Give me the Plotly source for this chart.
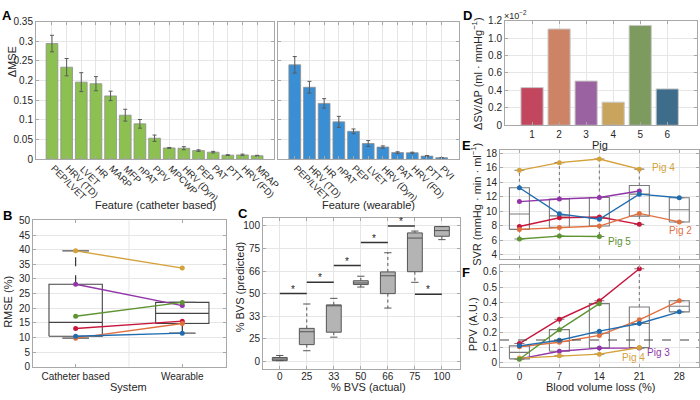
import plotly.graph_objects as go

W, H = 700, 400

# ---------------- data ----------------
# Panel A
cat_features = ["PEP/LVET", "HRV (TD)", "LVET", "HR", "MARP", "MFP", "nPAT", "PPV",
                "MPCWP", "HRV (Dyn)", "PEP", "PAT", "PTT", "HRV (FD)", "MRAP"]
cat_dmse = [0.294, 0.234, 0.196, 0.192, 0.161, 0.112, 0.090, 0.0535, 0.0288, 0.028,
            0.022, 0.018, 0.0105, 0.011, 0.009]
cat_err = [0.021, 0.022, 0.024, 0.018, 0.012, 0.015, 0.011, 0.008, 0.001, 0.004,
           0.002, 0.002, 0.001, 0.002, 0.001]
wear_features = ["PEP/LVET", "HRV (TD)", "HR", "nPAT", "PEP", "LVET", "HRV (Dyn)",
                 "PAT", "HRV (FD)", "PTT", "PVI"]
wear_dmse = [0.240, 0.183, 0.142, 0.095, 0.071, 0.040, 0.031, 0.017, 0.0165, 0.008, 0.004]
wear_err = [0.021, 0.015, 0.012, 0.014, 0.006, 0.0075, 0.003, 0.002, 0.0015, 0.0015, 0.0005]
a_yticks = [0, 0.05, 0.1, 0.15, 0.2, 0.25, 0.3, 0.35]
a_ytext = ["0", "0.05", "0.1", "0.15", "0.2", "0.25", "0.3", "0.35"]

# Panel B (pigs 1..6)
systems = ["Catheter based", "Wearable"]
rmse_catheter = [13.1, 9.8, 28.2, 39.6, 17.25, 10.45]
rmse_wearable = [15.6, 14.8, 20.9, 33.7, 22.0, 11.5]

# Panel C (ordinal positions on the 0/25/33/50/66/75/100 scale)
bvs_labels = ["0", "25", "33", "50", "66", "75", "100"]
c_q1 = [0.03, 0.74, 1.29, 3.40, 3.00, 3.97, 5.54]
c_med = [0.10, 1.31, 2.46, 3.47, 3.79, 5.46, 5.79]
c_q3 = [0.17, 1.46, 2.50, 3.57, 3.96, 5.69, 5.97]
c_lo = [0.03, 0.47, 1.07, 3.29, 2.36, 3.50, 5.39]
c_hi = [0.26, 2.54, 2.79, 3.77, 4.81, 5.77, 5.97]
c_sig_y = [3.0, 3.5, 4.24, 5.26, 6.0, 2.97]

# Panel D
pigs = [1, 2, 3, 4, 5, 6]
dsv_dp = [0.432, 1.103, 0.507, 0.265, 1.144, 0.417]   # x10^-2

# Panels E/F
loss = [0, 7, 14, 21, 28]
svr = [
    [7.9, 9.1, 9.2, 8.2, None],
    [7.5, 7.78, 7.96, 9.7, 8.53],
    [11.33, 11.69, 11.9, 12.8, None],
    [15.64, 16.7, 17.2, 15.8, None],
    [6.18, 6.58, 6.53, None, None],
    [13.24, 9.64, 8.9, 12.36, 11.87],
]
ppv = [
    [0.126, 0.287, 0.409, 0.621, None],
    [0.105, 0.135, 0.18, 0.283, 0.409],
    [0.025, 0.075, 0.096, 0.096, None],
    [0.03, 0.045, 0.056, 0.1, None],
    [0.022, 0.218, 0.39, None, None],
    [0.111, 0.148, 0.208, 0.259, 0.336],
]
ppv_threshold = 0.15

# ---------------- style ----------------
PIG_LINE = ["#c8173d", "#e0703f", "#9135a8", "#d4a13a", "#5e9432", "#1f6cb0"]
PIG_BAR = ["#c1465e", "#cd8466", "#9a62a0", "#c9a45c", "#7e9b5f", "#3e6c8b"]
GREEN = "#8cc152"
BLUE = "#3a8ed4"
GRID = "#e6e6e6"
FRAME = "#a8a8a8"
TXT = "#262626"
FONT = "Liberation Sans, Arial, sans-serif"


def mprctile(vals, p):
    v = sorted(x for x in vals if x is not None)
    n = len(v)
    pos = p / 100 * n + 0.5
    if pos <= 1:
        return v[0]
    if pos >= n:
        return v[-1]
    i = int(pos)
    f = pos - i
    return v[i - 1] + f * (v[i] - v[i - 1])


def box_stats(vals):
    v = sorted(x for x in vals if x is not None)
    q1, med, q3 = mprctile(v, 25), mprctile(v, 50), mprctile(v, 75)
    iqr = q3 - q1
    hi = max(x for x in v if x <= q3 + 1.5 * iqr)
    lo = min(x for x in v if x >= q1 - 1.5 * iqr)
    return q1, med, q3, lo, hi


def px_x(x):
    return x / W


def px_y(y):
    return 1 - y / H


def dom_x(a, b):
    return [a / W, b / W]


def dom_y(top, bottom):
    return [1 - bottom / H, 1 - top / H]


fig = go.Figure()


def add_box(xc, st, w, xa, ya, edge, fill, wcol, wdash, capw, lw=1.0, capcol=None):
    q1, med, q3, lo, hi = st
    h = w / 2
    capcol = capcol or wcol
    common = dict(xaxis=xa, yaxis=ya, hoverinfo="skip", showlegend=False, mode="lines")
    fig.add_trace(go.Scatter(x=[xc, xc], y=[q3, hi], line=dict(color=wcol, width=lw, dash=wdash), **common))
    fig.add_trace(go.Scatter(x=[xc, xc], y=[q1, lo], line=dict(color=wcol, width=lw, dash=wdash), **common))
    kw = dict(fill="toself", fillcolor=fill) if fill else {}
    fig.add_trace(go.Scatter(x=[xc - h, xc + h, xc + h, xc - h, xc - h], y=[q1, q1, q3, q3, q1],
                             line=dict(color=edge, width=lw), **kw, **common))
    fig.add_trace(go.Scatter(x=[xc - h, xc + h], y=[med, med], line=dict(color=edge, width=lw), **common))
    c = capw / 2
    fig.add_trace(go.Scatter(x=[xc - c, xc + c], y=[hi, hi], line=dict(color=capcol, width=lw), **common))
    fig.add_trace(go.Scatter(x=[xc - c, xc + c], y=[lo, lo], line=dict(color=capcol, width=lw), **common))


# ---------- Panel A ----------
fig.add_trace(go.Bar(x=list(range(1, len(cat_dmse) + 1)), y=cat_dmse, width=0.8,
                     marker=dict(color=GREEN, line=dict(color="#8f8f8f", width=0.8)),
                     error_y=dict(type="data", array=cat_err, color="#5a5a5a", thickness=1, width=2),
                     xaxis="x", yaxis="y", showlegend=False))
fig.add_trace(go.Bar(x=list(range(1, len(wear_dmse) + 1)), y=wear_dmse, width=0.8,
                     marker=dict(color=BLUE, line=dict(color="#8f8f8f", width=0.8)),
                     error_y=dict(type="data", array=wear_err, color="#5a5a5a", thickness=1, width=2),
                     xaxis="x2", yaxis="y2", showlegend=False))

# ---------- Panel B ----------
for i, vals in enumerate([rmse_catheter, rmse_wearable]):
    add_box(i + 1, box_stats(vals), 0.5, "x3", "y3", "#444444", None, "#222222", "dash", 0.25,
            lw=1.1, capcol="#555555")
for p in range(6):
    fig.add_trace(go.Scatter(x=[1, 2], y=[rmse_catheter[p], rmse_wearable[p]], mode="lines+markers",
                             line=dict(color=PIG_LINE[p], width=1.4), marker=dict(size=5, color=PIG_LINE[p]),
                             xaxis="x3", yaxis="y3", showlegend=False))

# ---------- Panel C ----------
for i in range(len(bvs_labels)):
    add_box(i, (c_q1[i], c_med[i], c_q3[i], c_lo[i], c_hi[i]), 0.55, "x4", "y4", "#555555",
            "#b4b4b4", "#555555", "dot", 0.27, lw=1.0)
for k, yv in enumerate(c_sig_y):
    fig.add_trace(go.Scatter(x=[k, k + 1], y=[yv, yv], mode="lines", line=dict(color="#333333", width=1.5),
                             xaxis="x4", yaxis="y4", showlegend=False, hoverinfo="skip"))

# ---------- Panel D ----------
fig.add_trace(go.Bar(x=pigs, y=dsv_dp, width=0.82,
                     marker=dict(color=PIG_BAR, line=dict(color="#c8c8c8", width=1)),
                     xaxis="x5", yaxis="y5", showlegend=False))

# ---------- Panels E / F ----------
for data, xa, ya, wdash in [(svr, "x6", "y6", "dot"), (ppv, "x7", "y7", "dot")]:
    for j, xv in enumerate(loss):
        col = [data[p][j] for p in range(6) if data[p][j] is not None]
        add_box(xv, box_stats(col), 3.5, xa, ya, "#7a7a7a", None, "#7a7a7a", wdash, 1.75, lw=1.1)
    for p in range(6):
        xs = [loss[j] for j in range(5) if data[p][j] is not None]
        ys = [data[p][j] for j in range(5) if data[p][j] is not None]
        fig.add_trace(go.Scatter(x=xs, y=ys, mode="lines+markers",
                                 line=dict(color=PIG_LINE[p], width=1.4),
                                 marker=dict(size=5, color=PIG_LINE[p]),
                                 xaxis=xa, yaxis=ya, showlegend=False))
fig.add_trace(go.Scatter(x=[-3.4, 31.45], y=[ppv_threshold, ppv_threshold], mode="lines",
                         line=dict(color="#444444", width=1.1, dash="dash"),
                         xaxis="x7", yaxis="y7", showlegend=False, hoverinfo="skip"))


# ---------------- axes ----------------
def axis(domain, rng, anchor, **kw):
    d = dict(domain=domain, range=rng, anchor=anchor, showline=True, linecolor=FRAME, linewidth=1,
             mirror="ticks", ticks="inside", ticklen=3, tickcolor=FRAME, showgrid=True,
             gridcolor=GRID, gridwidth=1, zeroline=False, fixedrange=True,
             tickfont=dict(size=10, color=TXT, family=FONT))
    d.update(kw)
    return d


lay = dict(
    width=W, height=H, autosize=False, margin=dict(l=0, r=0, t=0, b=0, pad=0),
    paper_bgcolor="white", plot_bgcolor="white", showlegend=False,
    font=dict(family=FONT, size=10, color=TXT),
)
# A left
lay["xaxis"] = axis(dom_x(36, 274), [-0.09, 16.15], "y", tickvals=list(range(1, 16)), showticklabels=False)
lay["yaxis"] = axis(dom_y(16, 158), [0, 0.35], "x", tickvals=a_yticks, ticktext=a_ytext)
# A right
lay["xaxis2"] = axis(dom_x(278, 459), [-0.14, 12.18], "y2", tickvals=list(range(1, 12)), showticklabels=False)
lay["yaxis2"] = axis(dom_y(16, 158), [0, 0.35], "x2", tickvals=a_yticks, showticklabels=False)
# B
lay["xaxis3"] = axis(dom_x(33, 226), [0.6, 2.41], "y3", tickvals=[1, 2], ticktext=systems, showgrid=False)
lay["yaxis3"] = axis(dom_y(221, 372), [0, 50], "x3", tickvals=list(range(0, 55, 5)))
# C
lay["xaxis4"] = axis(dom_x(263, 460), [-0.62, 6.67], "y4", tickvals=list(range(7)), ticktext=bvs_labels,
                     ticklabelstandoff=-2)
lay["yaxis4"] = axis(dom_y(219, 374), [-0.33, 6.33], "x4", tickvals=list(range(7)), ticktext=bvs_labels)
# D
lay["xaxis5"] = axis(dom_x(505, 697), [0, 7.1], "y5", tickvals=pigs)
lay["yaxis5"] = axis(dom_y(15, 123), [0, 1.2], "x5", tickvals=[0, 0.2, 0.4, 0.6, 0.8, 1.0, 1.2],
                     ticktext=["0", "0.2", "0.4", "0.6", "0.8", "1.0", "1.2"])
# E
lay["xaxis6"] = axis(dom_x(500, 699), [-3.4, 31.45], "y6", tickvals=loss, showticklabels=False)
lay["yaxis6"] = axis(dom_y(148, 261), [3.4, 18.5], "x6", tickvals=list(range(4, 20, 2)))
# F
lay["xaxis7"] = axis(dom_x(500, 699), [-3.4, 31.45], "y7", tickvals=loss)
lay["yaxis7"] = axis(dom_y(267, 372), [-0.028, 0.646], "x7", tickvals=[0, 0.1, 0.2, 0.3, 0.4, 0.5, 0.6],
                     ticktext=["0", "0.1", "0.2", "0.3", "0.4", "0.5", "0.6"])
fig.update_layout(**lay)

# vertical grid line in B between the systems
fig.add_shape(type="line", xref="x3", yref="y3 domain", x0=1.5, x1=1.5, y0=0, y1=1,
              line=dict(color=GRID, width=1), layer="below")

# ---------------- text ----------------
ann = []


def text(x, y, t, size=11, angle=0, color=TXT, bold=False, xanchor="center", yanchor="middle"):
    ann.append(dict(x=px_x(x), y=px_y(y), xref="paper", yref="paper", text=("<b>%s</b>" % t) if bold else t,
                    showarrow=False, textangle=angle, xanchor=xanchor, yanchor=yanchor,
                    font=dict(size=size, color=color, family=FONT)))


# rotated category labels of panel A (text starts at the tick and runs down-right)
for xa, names in [("x", cat_features), ("x2", wear_features)]:
    for i, name in enumerate(names):
        ann.append(dict(x=i + 1, y=px_y(159), xref=xa, yref="paper", text=name, showarrow=False,
                        textangle=45, xanchor="left", yanchor="top", xshift=-6,
                        font=dict(size=9.5, color=TXT, family=FONT)))

for lab, x, y in [("A", 0, 0), ("B", 1, 206), ("C", 236, 204), ("D", 461, 0), ("E", 460, 134), ("F", 460, 265)]:
    text(x, y, lab, size=13, bold=True, xanchor="left", yanchor="top", color="#000")

text(12, 58, "ΔMSE", angle=-90)
text(155, 205, "Feature (catheter based)")
text(368, 205, "Feature (wearable)")
text(8, 305, "RMSE (%)", angle=-90)
text(128, 393, "System")
text(240, 290, "% BVS (predicted)", angle=-90)
text(368, 393, "% BVS (actual)")
text(477, 69, "ΔSV/ΔP (ml · mmHg<sup>−1</sup>)", angle=-90)
text(502, 9, "×10<sup>−2</sup>", size=9, xanchor="left")
text(600, 143, "Pig")
text(476, 205, "SVR (mmHg · min · ml<sup>−1</sup>)", angle=-90)
text(473, 328, "PPV (A.U.)", angle=-90)
text(600, 393, "Blood volume loss (%)")

text(650, 166, "Pig 4", size=10, color=PIG_LINE[3], xanchor="left")
text(667, 231, "Pig 2", size=10, color=PIG_LINE[1], xanchor="left")
text(606, 243, "Pig 5", size=10, color=PIG_LINE[4], xanchor="left")
text(620, 362, "Pig 4", size=10, color=PIG_LINE[3], xanchor="left")
text(645, 357, "Pig 3", size=10, color=PIG_LINE[2], xanchor="left")

for k, yv in enumerate(c_sig_y):
    ann.append(dict(x=k + 0.5, y=yv, xref="x4", yref="y4", text="*", showarrow=False, yanchor="bottom",
                    yshift=-3, font=dict(size=10, color="#222222", family=FONT)))

fig.update_layout(annotations=ann)
fig.write_html("out.html", config={"displayModeBar": False},
               post_script="document.body.style.margin='0';")
